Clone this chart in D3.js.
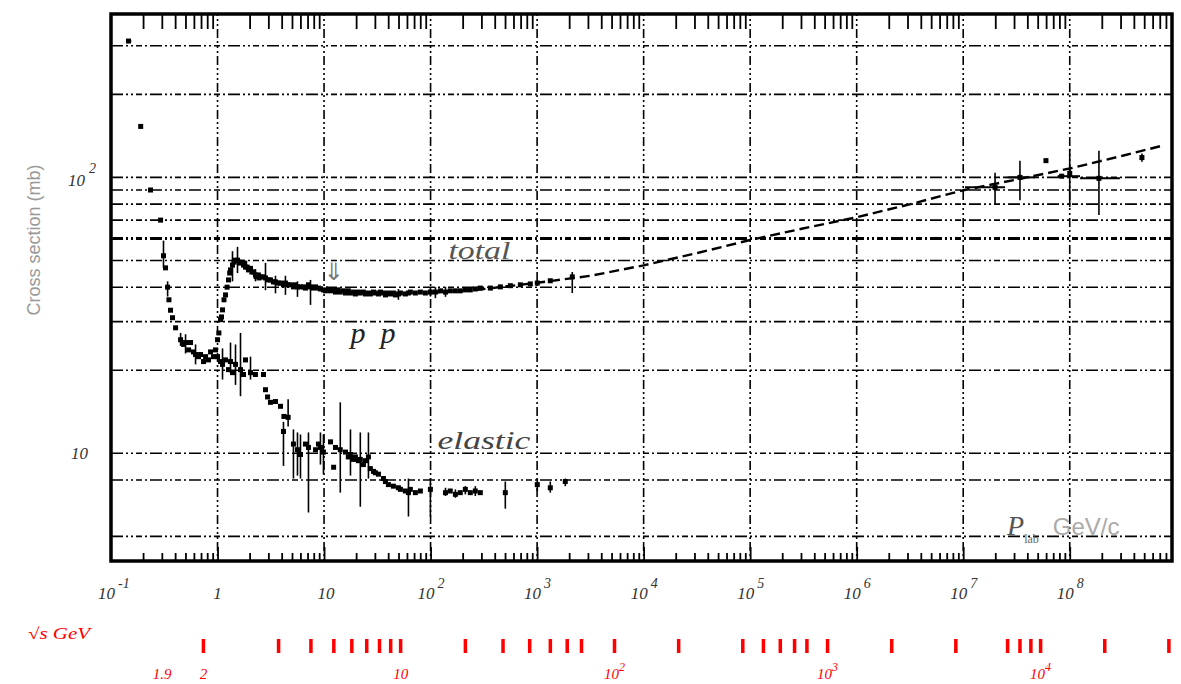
<!DOCTYPE html>
<html>
<head>
<meta charset="utf-8">
<script src="https://cdn.jsdelivr.net/npm/d3@7"></script>
<style>
  body { margin: 0; background: #fff; }
  .num { font-family: 'Liberation Serif', serif; font-style: italic; fill: #333; }
  .red { font-family: 'Liberation Serif', serif; font-style: italic; fill: #f00; }
</style>
</head>
<body>
<svg id="svg"></svg>
<script>
// p_lab (GeV/c), sigma (mb), [sigma lo, sigma hi], [p lo, p hi]
const totalData = [
  [0.146, 312, null, null, 0.14, 0.155],
  [0.190, 153], [0.235, 90], [0.292, 70], [0.311, 52, 47, 59], [0.325, 47],
  [0.340, 40, 37, 42], [0.350, 36], [0.362, 33], [0.378, 31], [0.404, 28.5],
  [0.450, 25.8, 24.5, 27.3], [0.480, 24.8], [0.501, 25.2, 23, 27], [0.535, 23.7],
  [0.558, 25.2], [0.595, 23.3], [0.622, 22.8, 21, 24.8], [0.663, 22.4], [0.693, 22.8],
  [0.739, 21.5], [0.772, 22.4], [0.823, 21.8], [0.860, 23.3], [0.917, 22.4], [0.958, 23.7],
  [1.000, 25.8], [1.030, 27.3], [1.067, 30.5], [1.090, 31.2], [1.114, 33.1], [1.150, 36.0],
  [1.189, 37.5], [1.230, 40.0], [1.268, 42.5], [1.300, 45.0], [1.324, 46.2],
  [1.382, 48.1, 42, 54], [1.430, 49.3], [1.475, 50.1], [1.540, 50.1, 45, 56],
  [1.600, 49.3], [1.643, 48.9], [1.700, 49.3], [1.754, 48.1], [1.800, 48.9],
  [1.831, 47.3], [1.900, 47.3], [1.954, 46.2], [2.040, 46.8], [2.100, 45.4],
  [2.180, 45.4], [2.270, 44.3, 42, 46.5], [2.420, 44.3], [2.450, 43.2, null, null, 2.18, 2.82],
  [2.530, 43.6], [2.700, 43.6], [2.820, 43.2, 39, 49], [3.010, 42.5], [3.140, 42.5],
  [3.350, 41.8], [3.500, 41.8, 38, 44], [3.730, 41.4], [3.900, 41.4], [4.160, 40.8],
  [4.340, 41.4, 37.5, 44], [4.540, 40.8], [4.840, 40.8], [5.160, 40.1], [5.390, 40.8],
  [5.630, 40.1, 36.9, 42], [6.010, 40.1], [6.410, 40.1], [6.690, 39.7], [7.140, 40.8],
  [7.460, 40.1, 34.5, 42.5], [7.960, 39.7], [8.310, 40.1], [8.860, 39.7], [9.250, 39.4],
  [9.87, 39.1], [10.3, 38.8], [11.0, 39.4], [11.5, 38.8], [12.3, 39.1], [12.8, 38.4],
  [13.6, 39.1], [14.2, 38.4], [15.2, 38.8], [15.9, 38.1], [16.9, 38.8], [17.7, 38.1],
  [18.9, 38.4], [19.7, 37.8], [21.0, 38.4], [21.9, 38.1], [23.4, 38.4], [24.5, 37.8],
  [26.1, 38.1], [27.2, 37.8], [29.1, 38.4], [30.3, 38.1], [32.4, 37.8], [33.8, 38.4],
  [36.1, 38.1], [37.7, 37.5], [40.2, 38.1], [42.0, 37.8], [44.8, 38.1], [46.8, 37.5],
  [49.9, 37.8, 36.0, 39.4], [52.1, 38.1], [58.0, 37.8], [61.9, 38.1], [64.6, 38.4],
  [72.0, 38.1], [80.2, 38.4], [89.4, 38.1], [99.6, 38.4, 37, 40], [111, 38.4, 36.5, 40],
  [124, 38.8], [138, 38.4, 36.9, 40.1], [153, 38.8], [171, 38.8], [190, 38.8],
  [212, 39.1], [236, 39.1], [263, 39.4], [293, 39.7], [364, 39.7], [452, 40.1],
  [561, 40.5], [696, 40.8], [864, 41.1], [1004, 41.4], [1330, 42.2],
  [2139, 43.6, 38.1, 45.4]
];

const elasticData = [
  [1.000, 22.4], [1.067, 21.5], [1.114, 21.0, 18.5, 24], [1.189, 21.8], [1.268, 20.1],
  [1.324, 21.5, 19.6, 25.2], [1.382, 19.6], [1.475, 21.0, 17.7, 24.8],
  [1.643, 20.1, 16.1, 27.3], [1.754, 19.3], [1.831, 21.8], [2.040, 19.6, 18.5, 22.4],
  [2.270, 19.3], [2.700, 19.3], [2.820, 17.0], [2.950, 16.0], [3.140, 15.3],
  [3.500, 15.4], [3.900, 14.8], [4.160, 12.0, 9.0, 13.0], [4.200, 13.6],
  [4.600, 13.5, 12.5, 15.7], [5.160, 10.8, 8.1, 12.2], [5.630, 10.3, 8.3, 11.9],
  [6.010, 9.9, 8.1, 11.7], [6.690, 10.8], [7.140, 10.5, 6.1, 11.9], [8.31, 10.3],
  [8.86, 10.8], [9.25, 10.5, 9.1, 11.9], [9.87, 10.1, 8.4, 11.7], [11.5, 11.0],
  [12.3, 8.9], [12.8, 10.5], [14.2, 10.3, 7.2, 15.3], [15.9, 10.1], [16.9, 9.7],
  [17.7, 9.9, 8.3, 12.2], [18.9, 9.5], [19.7, 9.7], [21.0, 9.4], [21.9, 9.5, 6.4, 11.9],
  [23.4, 9.1], [24.5, 9.4], [26.1, 9.7, 8.1, 11.9], [27.2, 8.8], [29.1, 8.6], [30.3, 8.5],
  [32.4, 8.4], [36.1, 8.1], [37.7, 7.9], [40.2, 7.7], [44.8, 7.6], [49.9, 7.5],
  [52.1, 7.4], [58.0, 7.3], [62.0, 7.2, 5.9, 8.1], [64.6, 7.4], [72.0, 7.2], [80.2, 7.3],
  [99.6, 7.4, 5.9, 8.1], [138, 7.2, 7.0, 7.5], [153, 7.3], [171, 7.1, 6.9, 7.4], [190, 7.2],
  [212, 7.4, 7.1, 7.6], [236, 7.2], [263, 7.3, 7.0, 7.6], [293, 7.2],
  [503, 7.2, 6.3, 7.9], [1004, 7.7, 7.3, 8.1], [1330, 7.5, 7.2, 7.9], [1839, 7.9, 7.6, 8.1]
];

// cosmic ray / collider equivalent points: p, sigma, lo, hi, p lo, p hi
const highEnergyData = [
  [1.99e7, 92, 80, 104, 1.04e7, 2.47e7],
  [3.41e7, 100, 82.6, 115, 2.47e7, 4.71e7],
  [5.98e7, 115],
  [8.4e7, 101, null, null, 7.7e7, 1.25e8],
  [1.0e8, 103.4, 78, 127],
  [1.88e8, 99.2, 73, 125, 1.25e8, 2.96e8],
  [4.76e8, 118, 114, 122]
];

// fitted total cross-section, p_lab and sigma
const fitP = [100, 300, 1e3, 3.2e3, 1e4, 3.2e4, 1e5, 3.2e5, 1e6, 3.2e6, 1e7, 3.2e7, 1e8, 3.2e8, 7.5e8];
const fitSigma = [38.2, 39.3, 41.5, 44, 48, 53.2, 59.3, 65.4, 71.7, 80, 89.8, 98.3, 107.7, 120, 130.5];

const gridSigma = [300, 200, 100, 90, 80, 70, 60, 50, 40, 30, 20, 10, 8, 5];
const xLabelExps = [-1, 0, 1, 2, 3, 4, 5, 6, 7, 8];
const yLabelExps = [2, 1];
const sqrtsTicks = [2, 3, 4, 5, 6, 7, 8, 9, 10, 20, 30, 40, 50, 60, 70, 100, 200, 400, 500, 600,
  700, 800, 1000, 2000, 4000, 7000, 8000, 9000, 10000, 20000, 40000];
const sqrtsLabels = [[1.9, '1.9'], [2, '2'], [10, '10'], [100, '10', '2'], [1000, '10', '3'], [10000, '10', '4']];

const W = 1181, H = 684;
const plot = {left: 111, right: 1172, top: 14, bottom: 561};
const mp = 0.938272;

const svg = d3.select('#svg').attr('width', W).attr('height', H);

const x = d3.scaleLog().domain([0.1, Math.pow(10, 8.96)]).range([plot.left, plot.right]);
const y = d3.scaleLog().domain([4.07, 391]).range([plot.bottom, plot.top]);

// sqrt(s) -> p_lab for a pp collision on a fixed target
function plab(rs) {
  const e = (rs * rs - 2 * mp * mp) / (2 * mp);
  return Math.sqrt(e * e - mp * mp);
}

// grid
const grid = svg.append('g');
grid.selectAll('.hgrid').data(gridSigma).enter().append('line')
  .attr('x1', plot.left).attr('x2', plot.right)
  .attr('y1', d => y(d)).attr('y2', d => y(d))
  .attr('stroke', '#000')
  .attr('stroke-width', d => d === 60 ? 3 : 1.6)
  .attr('stroke-dasharray', '12,3,2,3,2,3,6,3,2,3');

const decades = d3.range(0, 9).map(e => Math.pow(10, e));
grid.selectAll('.vgrid').data(decades).enter().append('line')
  .attr('x1', d => x(d)).attr('x2', d => x(d))
  .attr('y1', plot.top).attr('y2', plot.bottom)
  .attr('stroke', '#000').attr('stroke-width', 1.6)
  .attr('stroke-dasharray', '2,3,2,3,2,3,9,3');

// minor log ticks
const minor = [];
for (let e = -1; e <= 8; e++) {
  for (let k = 2; k <= 9; k++) {
    const v = k * Math.pow(10, e);
    if (v < x.domain()[1]) minor.push(v);
  }
}
const topAxis = svg.append('g').attr('transform', `translate(0,${plot.top})`)
  .call(d3.axisTop(x).tickValues(minor).tickSize(-15).tickFormat(''));
const botAxis = svg.append('g').attr('transform', `translate(0,${plot.bottom})`)
  .call(d3.axisBottom(x).tickValues(minor).tickSize(-8).tickFormat(''));
const botMajor = svg.append('g').attr('transform', `translate(0,${plot.bottom})`)
  .call(d3.axisBottom(x).tickValues(decades).tickSize(-14).tickFormat(''));
[topAxis, botAxis, botMajor].forEach(a => {
  a.select('.domain').remove();
  a.selectAll('line').attr('stroke', '#000').attr('stroke-width', 1.8);
});

// fit curve
const line = d3.line().x(d => x(d[0])).y(d => y(d[1]));
svg.append('path')
  .datum(fitP.map((p, i) => [p, fitSigma[i]]))
  .attr('d', line)
  .attr('fill', 'none').attr('stroke', '#000')
  .attr('stroke-width', 2.4).attr('stroke-dasharray', '10,5');

function drawSeries(data, cls) {
  const g = svg.append('g').attr('class', cls);
  g.selectAll('.ev').data(data.filter(d => d[2] != null)).enter().append('line')
    .attr('x1', d => x(d[0])).attr('x2', d => x(d[0]))
    .attr('y1', d => y(d[2])).attr('y2', d => y(d[3]))
    .attr('stroke', '#000').attr('stroke-width', 1.6);
  g.selectAll('.eh').data(data.filter(d => d[4] != null)).enter().append('line')
    .attr('x1', d => x(d[4])).attr('x2', d => x(d[5]))
    .attr('y1', d => y(d[1])).attr('y2', d => y(d[1]))
    .attr('stroke', '#000').attr('stroke-width', 2);
  g.selectAll('rect').data(data).enter().append('rect')
    .attr('x', d => x(d[0]) - 2.5).attr('y', d => y(d[1]) - 2.5)
    .attr('width', 5).attr('height', 5).attr('fill', '#000');
}
drawSeries(totalData, 'total');
drawSeries(elasticData, 'elastic');
drawSeries(highEnergyData, 'high');

// frame
svg.append('rect')
  .attr('x', plot.left).attr('y', plot.top)
  .attr('width', plot.right - plot.left).attr('height', plot.bottom - plot.top)
  .attr('fill', 'none').attr('stroke', '#000').attr('stroke-width', 3.5);

// x labels
const xl = svg.append('g').attr('class', 'num').attr('font-size', 17);
xLabelExps.forEach(e => {
  const cx = x(Math.pow(10, e));
  if (e === 0) {
    xl.append('text').attr('x', cx).attr('y', 599).attr('text-anchor', 'middle').text('1');
  } else if (e === 1) {
    xl.append('text').attr('x', cx + 2).attr('y', 599).attr('text-anchor', 'middle').text('10');
  } else {
    const t = xl.append('text').attr('x', cx - 13).attr('y', 599);
    t.append('tspan').text('10');
    t.append('tspan').attr('dy', -11).attr('dx', 3).attr('font-size', 14).text(e);
  }
});

// y labels
const yl = svg.append('g').attr('class', 'num').attr('font-size', 17);
yLabelExps.forEach(e => {
  const cy = y(Math.pow(10, e));
  if (e === 1) {
    yl.append('text').attr('x', 88).attr('y', cy + 6).attr('text-anchor', 'end').text('10');
  } else {
    const t = yl.append('text').attr('x', 68).attr('y', cy + 9);
    t.append('tspan').text('10');
    t.append('tspan').attr('dy', -13).attr('dx', 4).attr('font-size', 14).text(e);
  }
});

svg.append('text')
  .attr('transform', 'translate(40,240) rotate(-90)')
  .attr('text-anchor', 'middle')
  .attr('font-family', "'Liberation Sans', sans-serif")
  .attr('font-size', 18).attr('fill', '#999')
  .text('Cross section (mb)');

// sqrt(s) axis
svg.append('text').attr('class', 'red').attr('x', 28).attr('y', 639)
  .attr('font-size', 16).attr('textLength', 62).attr('lengthAdjust', 'spacingAndGlyphs')
  .text('√s GeV');
svg.append('g').selectAll('rect').data(sqrtsTicks).enter().append('rect')
  .attr('x', d => x(plab(d)) - 1.75).attr('y', 639)
  .attr('width', 3.5).attr('height', 14).attr('fill', '#f00');
const rl = svg.append('g').attr('class', 'red').attr('font-size', 15);
sqrtsLabels.forEach(d => {
  const t = rl.append('text').attr('x', x(plab(d[0]))).attr('y', 679).attr('text-anchor', 'middle');
  t.append('tspan').text(d[1]);
  if (d[2]) t.append('tspan').attr('dy', -8).attr('font-size', 12).text(d[2]);
});

// annotations
const serifItalic = "'Liberation Serif', serif";
svg.append('text').attr('x', x(147)).attr('y', y(50.6))
  .attr('font-family', serifItalic).attr('font-style', 'italic')
  .attr('font-size', 25).attr('fill', '#555')
  .attr('textLength', 62).attr('lengthAdjust', 'spacingAndGlyphs').text('total');
svg.append('text').attr('x', x(116)).attr('y', y(10.34))
  .attr('font-family', serifItalic).attr('font-style', 'italic')
  .attr('font-size', 25).attr('fill', '#444')
  .attr('textLength', 93).attr('lengthAdjust', 'spacingAndGlyphs').text('elastic');
svg.append('text').attr('x', x(17.7)).attr('y', y(25.2))
  .attr('font-family', serifItalic).attr('font-style', 'italic')
  .attr('font-size', 30).attr('fill', '#222').attr('textLength', 45).text('p p');
svg.append('text').attr('x', x(12.3)).attr('y', y(42.5)).attr('text-anchor', 'middle')
  .attr('font-family', "'DejaVu Sans', sans-serif")
  .attr('font-size', 24).attr('fill', '#777').text('⇓');
const plabText = svg.append('text').attr('x', x(2.58e7)).attr('y', y(5.06));
plabText.append('tspan').attr('font-family', serifItalic).attr('font-style', 'italic')
  .attr('font-size', 28).attr('fill', '#555').text('P');
plabText.append('tspan').attr('dy', 8).attr('font-family', serifItalic)
  .attr('font-size', 12).attr('fill', '#666').text('lab');
plabText.append('tspan').attr('dy', -8).attr('dx', 14)
  .attr('font-family', "'Liberation Sans', sans-serif")
  .attr('font-size', 24).attr('fill', '#aaa').text('GeV/c');
</script>
</body>
</html>
